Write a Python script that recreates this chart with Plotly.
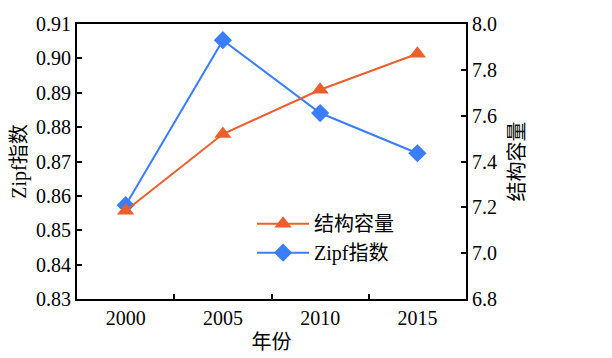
import plotly.graph_objects as go

years = ["2000", "2005", "2010", "2015"]
capacity = [7.185, 7.52, 7.713, 7.87]
zipf = [0.8573, 0.9053, 0.8841, 0.8724]

orange = "#EB5F2D"
blue = "#3B7DFF"
serif = "'Liberation Serif', 'Times New Roman', serif"
cjk = "'Liberation Serif', 'Noto Sans CJK SC', serif"

fig = go.Figure()
fig.add_trace(go.Scatter(x=years, y=capacity, name="结构容量", yaxis="y2",
                         mode="lines+markers",
                         line=dict(color=orange, width=2),
                         marker=dict(symbol="triangle-up", size=15, color=orange)))
fig.add_trace(go.Scatter(x=years, y=zipf, name="Zipf指数", yaxis="y",
                         mode="lines+markers",
                         line=dict(color=blue, width=2),
                         marker=dict(symbol="diamond", size=14, color=blue)))

axis_common = dict(ticks="inside", ticklen=5, tickwidth=2, tickcolor="black",
                   showline=True, linecolor="black", linewidth=2,
                   showgrid=False, zeroline=False, automargin=False,
                   tickfont=dict(family=serif, size=20, color="black"))

fig.update_layout(
    template="none",
    width=612, height=358,
    margin=dict(l=77, r=146, t=24, b=59, pad=0, autoexpand=False),
    paper_bgcolor="white", plot_bgcolor="white",
    font=dict(family=cjk, size=20, color="black"),
    showlegend=True,
    legend=dict(x=0.45, y=0.345, xanchor="left", yanchor="top",
                bgcolor="rgba(0,0,0,0)", font=dict(size=20, family=cjk),
                tracegroupgap=0, itemwidth=52),
    xaxis=dict(type="category", tickson="boundaries", mirror=True, range=[-0.5, 3.5],
               title=dict(text="年份", font=dict(size=20, family=cjk), standoff=7),
               **axis_common),
    yaxis=dict(range=[0.83, 0.91], dtick=0.01, tickformat=".2f",
               title=dict(text="Zipf指数", font=dict(size=20, family=cjk), standoff=4),
               **axis_common),
    yaxis2=dict(range=[6.8, 8.0], dtick=0.2, tickformat=".1f", overlaying="y", side="right",
                title=dict(text="结构容量", font=dict(size=20, family=cjk), standoff=14),
                **axis_common),
)

fig.write_html("out.html", include_plotlyjs=True, full_html=True,
               config={"displayModeBar": False},
               post_script="document.body.style.margin='0';")
